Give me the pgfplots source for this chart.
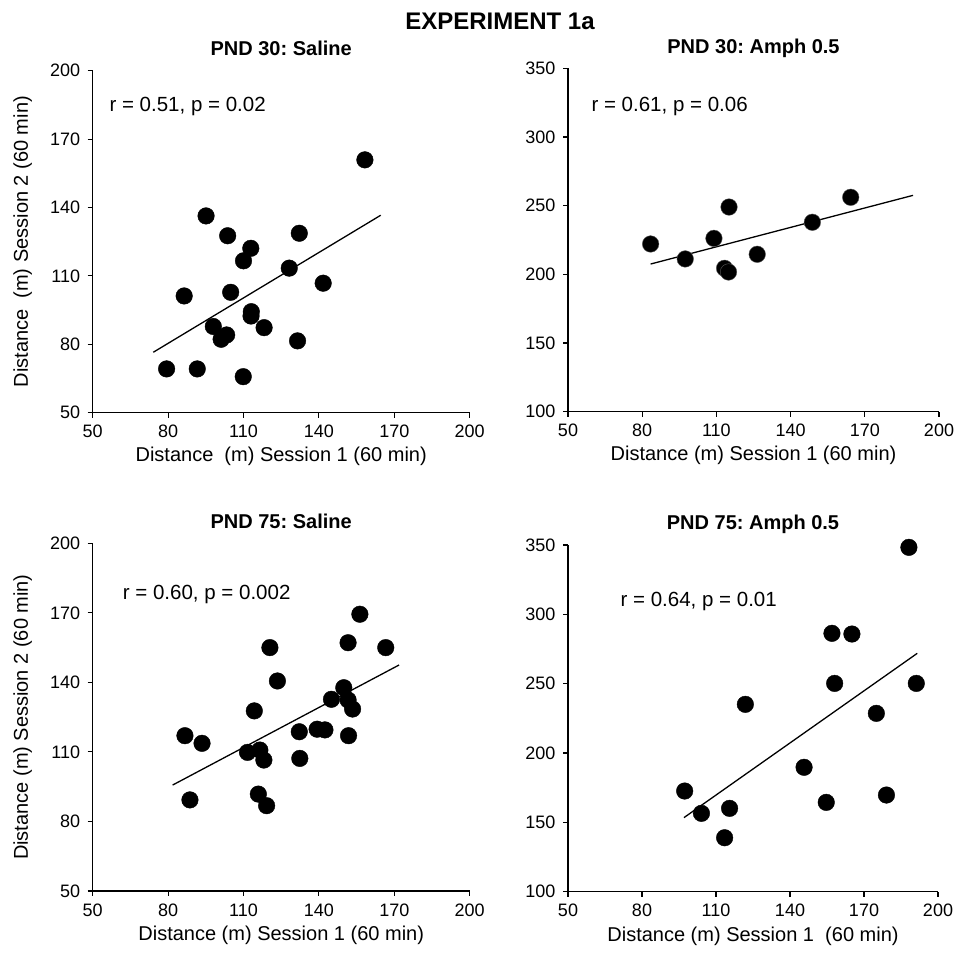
\documentclass[border=0pt]{standalone}
\usepackage{pgfplots}
\pgfplotsset{compat=1.18}
\usepackage{fontspec}
\setmainfont{Liberation Sans}
\frenchspacing

\pgfplotsset{
  panel/.style={
    scale only axis,
    axis lines*=left,
    axis line style={line width=1.3pt},
    tick align=outside,
    major tick length=5pt,
    tick style={line width=1.1pt, black},
    xmin=50, xmax=200, xtick={50,80,...,200},
    tick label style={font=\fontsize{18}{20}\selectfont},
    x tick label style={yshift=-4pt},
    y tick label style={xshift=-4pt},
    /pgf/number format/assume math mode=true,
    label style={font=\fontsize{20}{23}\selectfont},
    xlabel style={at={(axis description cs:0.5,-0.128)}, anchor=center},
    ylabel style={at={(axis description cs:-0.186,0.5)}, anchor=center},
    title style={font=\bfseries\fontsize{20}{23}\selectfont,
      at={(axis description cs:0.5,1)}, anchor=base, yshift=9pt},
    clip=false,
  },
  dots/.style={only marks, mark=*, mark size=8.3pt, mark options={fill=black, draw=black}},
  fit/.style={no marks, line width=1.3pt, black},
}

\begin{document}
\begin{tikzpicture}[x=1pt,y=1pt]
\useasboundingbox (0,0) rectangle (956,953);
\node[font=\bfseries\fontsize{24}{28}\selectfont] at (500,932) {EXPERIMENT 1a};

% PND 30 saline
\begin{axis}[panel, at={(92.7pt,540.3pt)}, anchor=south west,
  width=377pt, height=342pt,
  ymin=50, ymax=200, ytick={50,80,...,200},
  title={PND 30: Saline},
  xlabel={Distance\ \ (m) Session 1 (60 min)},
  ylabel={Distance\ \ (m) Session 2 (60 min)}]
\addplot[dots] coordinates {
  (158.3,160.9) (95.1,136.3) (103.7,127.6) (112.9,122.1) (110.0,116.6)
  (132.2,128.7) (128.2,113.4) (141.7,106.8) (86.4,101.2) (104.9,102.8)
  (113.1,94.3) (113.0,92.4) (98.0,87.8) (118.2,87.3) (103.3,84.1)
  (101.1,82.2) (131.5,81.5) (79.4,69.2) (91.6,69.2) (109.9,65.8)
};
\addplot[fit] coordinates {(74.1,76.5) (164.6,136.6)};
\node[anchor=west, font=\fontsize{20.5}{23}\selectfont] at (axis cs:55.3,184.3) {r = 0.51, p = 0.02};
\end{axis}

% PND 30 amph
\begin{axis}[panel, at={(568pt,541.3pt)}, anchor=south west,
  width=371pt, height=343.4pt,
  ymin=100, ymax=350, ytick={100,150,...,350},
  title={PND 30: Amph 0.5},
  xlabel={Distance (m) Session 1 (60 min)}]
\addplot[dots, mark options={fill=black, draw=black!65}] coordinates {
  (83.4,222.1) (97.4,211.2) (109.0,226.2) (115.1,249.0) (113.3,204.4)
  (114.9,201.7) (126.5,214.6) (148.8,237.9) (164.3,256.1)
};
\addplot[fit] coordinates {(83.4,207.5) (189.5,257.5)};
\node[anchor=west, font=\fontsize{20.5}{23}\selectfont] at (axis cs:58.1,322.1) {r = 0.61, p = 0.06};
\end{axis}

% PND 75 saline
\begin{axis}[panel, at={(92.7pt,62pt)}, anchor=south west,
  width=377pt, height=347.7pt,
  ymin=50, ymax=200, ytick={50,80,...,200},
  title={PND 75: Saline},
  xlabel={Distance (m) Session 1 (60 min)},
  ylabel={Distance (m) Session 2 (60 min)}]
\addplot[dots] coordinates {
  (156.3,169.4) (151.6,157.1) (166.6,155.0) (120.5,155.0) (123.5,140.6)
  (149.9,137.7) (145.0,132.7) (151.6,132.4) (153.4,128.5) (114.3,127.7)
  (132.2,118.7) (139.3,119.8) (142.4,119.5) (151.8,117.0) (86.7,117.0)
  (93.5,113.7) (111.6,109.8) (116.5,110.8) (118.1,106.5) (132.4,107.2)
  (88.7,89.3) (115.9,91.8) (119.2,86.8)
};
\addplot[fit] coordinates {(81.8,95.7) (171.9,147.5)};
\node[anchor=west, font=\fontsize{20.5}{23}\selectfont] at (axis cs:60.6,178.0) {r = 0.60, p = 0.002};
\end{axis}

% PND 75 amph
\begin{axis}[panel, at={(568pt,61.3pt)}, anchor=south west,
  width=370pt, height=346.7pt,
  ymin=100, ymax=350, ytick={100,150,...,350},
  title={PND 75: Amph 0.5},
  xlabel={Distance (m) Session 1\ \ (60 min)}]
\addplot[dots] coordinates {
  (188.2,348.3) (157.0,286.3) (165.1,285.8) (158.1,250.2) (191.2,250.2)
  (121.9,235.1) (175.0,228.6) (145.7,189.7) (97.3,172.6) (179.1,169.7)
  (154.7,164.4) (104.1,156.5) (115.5,160.1) (113.5,138.9)
};
\addplot[fit] coordinates {(97.0,153.4) (191.6,271.9)};
\node[anchor=west, font=\fontsize{20.5}{23}\selectfont] at (axis cs:69.9,309.6) {r = 0.64, p = 0.01};
\end{axis}
\end{tikzpicture}
\end{document}
